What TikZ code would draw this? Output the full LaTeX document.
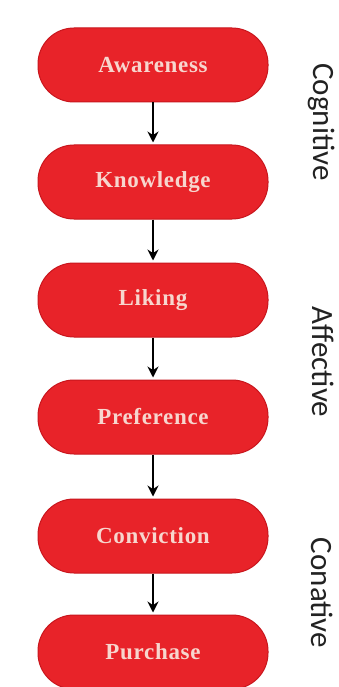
\documentclass[tikz,border=0pt]{standalone}
\usepackage{fontspec}
\setmainfont{Liberation Serif}
\newfontfamily\labelfont{Carlito}
\newfontfamily\stagefont[LetterSpace=3]{Liberation Serif}
\usetikzlibrary{arrows.meta}
\definecolor{boxred}{HTML}{E82329}
\definecolor{boxedge}{HTML}{C9161D}
\definecolor{boxtext}{HTML}{F7D6CE}
\definecolor{sidetext}{HTML}{222222}
\tikzset{
  stage/.style={draw=boxedge, line width=1pt, fill=boxred, rounded corners=36pt,
    minimum width=230pt, minimum height=74pt, inner sep=0pt,
    text=boxtext, font=\stagefont\fontsize{23}{25}\selectfont\bfseries},
  flow/.style={draw=black, line width=1.6pt, -{Stealth[length=11pt,width=11pt]}, shorten >=2pt},
  phase/.style={rotate=-90, text=sidetext, font=\labelfont\fontsize{31}{33}\selectfont, inner sep=0pt}
}
\begin{document}
\begin{tikzpicture}[x=1pt,y=1pt]
\useasboundingbox (0,0) rectangle (338,-687);
\fill[white] (0,0) rectangle (338,-687);
\node[stage] (aw) at (153,-65) {Awareness};
\node[stage] (kn) at (153,-182) {Knowledge};
\node[stage] (li) at (153,-300) {Liking};
\node[stage] (pr) at (153,-417) {Preference};
\node[stage] (co) at (153,-536) {Conviction};
\node[stage] (pu) at (153,-652) {Purchase};
\draw[flow] (aw) -- (kn);
\draw[flow] (kn) -- (li);
\draw[flow] (li) -- (pr);
\draw[flow] (pr) -- (co);
\draw[flow] (co) -- (pu);
\node[phase] (cog) at (322,-122) {Cognitive};
\node[phase] (aff) at (323,-362) {Affective};
\node[phase] (con) at (322,-593) {Conative};
\end{tikzpicture}
\end{document}
